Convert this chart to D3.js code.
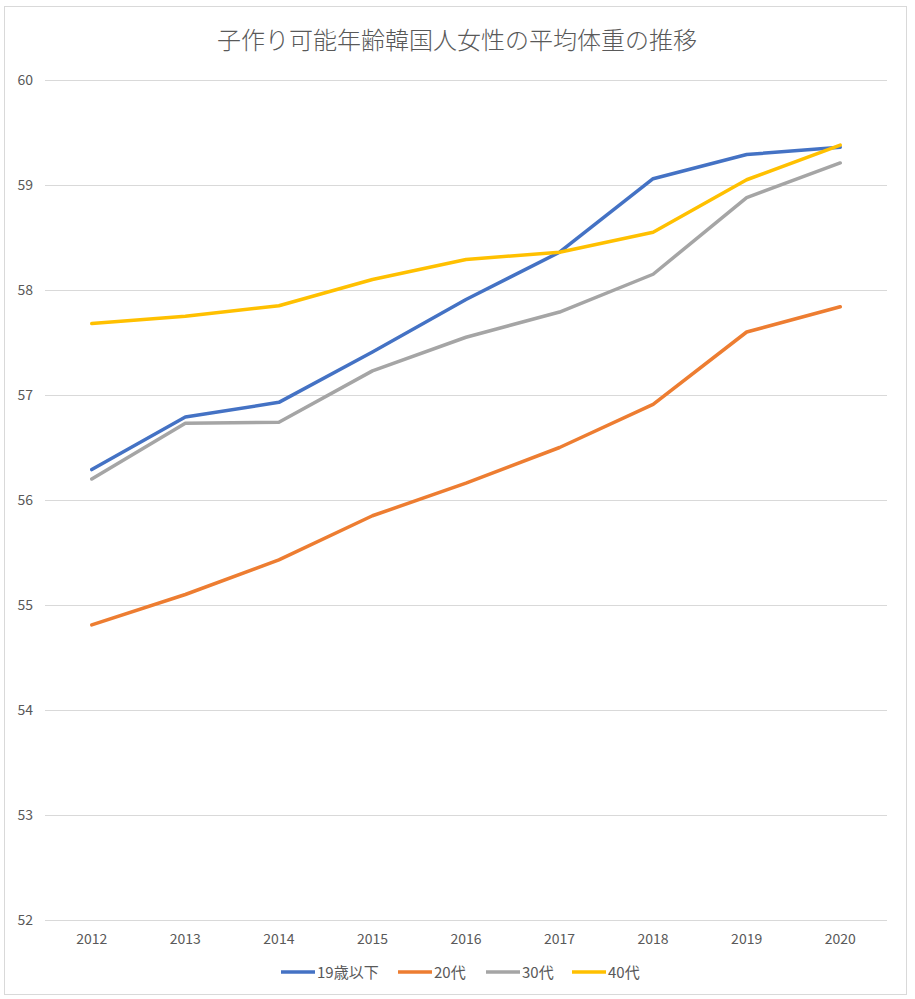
<!DOCTYPE html>
<html>
<head>
<meta charset="utf-8">
<script src="https://cdn.jsdelivr.net/npm/d3@7"></script>
<style>
  body { margin: 0; background: #fff; }
  text { font-family: "Noto Sans CJK JP", "Noto Sans", sans-serif; fill: #595959; }
</style>
</head>
<body>
<div class="chart"></div>
<script>
//chart data
var years = ["2012", "2013", "2014", "2015", "2016", "2017", "2018", "2019", "2020"];
var seriesNames = ["19歳以下", "20代", "30代", "40代"];
var under19 = [56.29, 56.79, 56.93, 57.41, 57.91, 58.36, 59.06, 59.29, 59.36];
var twenties = [54.81, 55.10, 55.43, 55.85, 56.16, 56.50, 56.91, 57.60, 57.84];
var thirties = [56.20, 56.73, 56.74, 57.23, 57.55, 57.79, 58.15, 58.88, 59.21];
var forties = [57.68, 57.75, 57.85, 58.10, 58.29, 58.36, 58.55, 59.05, 59.38];
var yTicks = [52, 53, 54, 55, 56, 57, 58, 59, 60];
var title = "子作り可能年齢韓国人女性の平均体重の推移";

var colors = ["#4472C4", "#ED7D31", "#A5A5A5", "#FFC000"];
var series = [under19, twenties, thirties, forties];

var width = 915,
    height = 999,
    margin = {top: 80, right: 28, bottom: 79, left: 45};

var svg = d3.select(".chart").append("svg")
            .attr("width", width)
            .attr("height", height);

//outer border
svg.append("rect")
   .attr("x", 4.5).attr("y", 6.5)
   .attr("width", 902).attr("height", 988)
   .attr("fill", "none")
   .attr("stroke", "#d9d9d9");

//title
svg.append("text")
   .attr("x", 457)
   .attr("y", 49)
   .attr("text-anchor", "middle")
   .style("font-size", "24px")
   .style("font-weight", 300)
   .text(title);

var xScale = d3.scaleBand()
               .domain(years)
               .range([margin.left, width - margin.right]);

var yScale = d3.scaleLinear()
               .domain([52, 60])
               .range([height - margin.bottom, margin.top]);

//gridlines
svg.append("g")
   .selectAll("line")
   .data(yTicks)
   .enter()
   .append("line")
   .attr("x1", margin.left)
   .attr("x2", width - margin.right)
   .attr("y1", d => yScale(d) + 0.5)
   .attr("y2", d => yScale(d) + 0.5)
   .attr("stroke", "#d9d9d9")
   .attr("stroke-width", 1);

//y labels
svg.append("g")
   .selectAll("text")
   .data(yTicks)
   .enter()
   .append("text")
   .attr("x", 33)
   .attr("y", d => yScale(d) + 5)
   .attr("text-anchor", "end")
   .style("font-size", "14px")
   .text(d => d);

//x axis labels
var xAxis = d3.axisBottom(xScale).tickSize(0).tickPadding(14);
var xg = svg.append("g")
   .attr("transform", "translate(0," + (height - margin.bottom) + ")")
   .call(xAxis);
xg.select(".domain").remove();
xg.selectAll("text")
  .style("font-size", "14px")
  .style("font-family", "\"Noto Sans CJK JP\", sans-serif")
  .attr("fill", "#595959");

//lines
var line = d3.line()
             .x((d, i) => xScale(years[i]) + xScale.bandwidth() / 2)
             .y(d => yScale(d));

svg.append("g")
   .selectAll("path")
   .data(series)
   .enter()
   .append("path")
   .attr("d", d => line(d))
   .attr("fill", "none")
   .attr("stroke", (d, i) => colors[i])
   .attr("stroke-width", 3.5)
   .attr("stroke-linejoin", "round")
   .attr("stroke-linecap", "round");

//legend
var legendX = [281, 398, 486, 572];
var legend = svg.append("g");
seriesNames.forEach(function(name, i) {
  legend.append("line")
        .attr("x1", legendX[i]).attr("x2", legendX[i] + 34)
        .attr("y1", 972).attr("y2", 972)
        .attr("stroke", colors[i])
        .attr("stroke-width", 3.5);
  legend.append("text")
        .attr("x", legendX[i] + 36)
        .attr("y", 977.5)
        .style("font-size", "15px")
        .text(name);
});
</script>
</body>
</html>
